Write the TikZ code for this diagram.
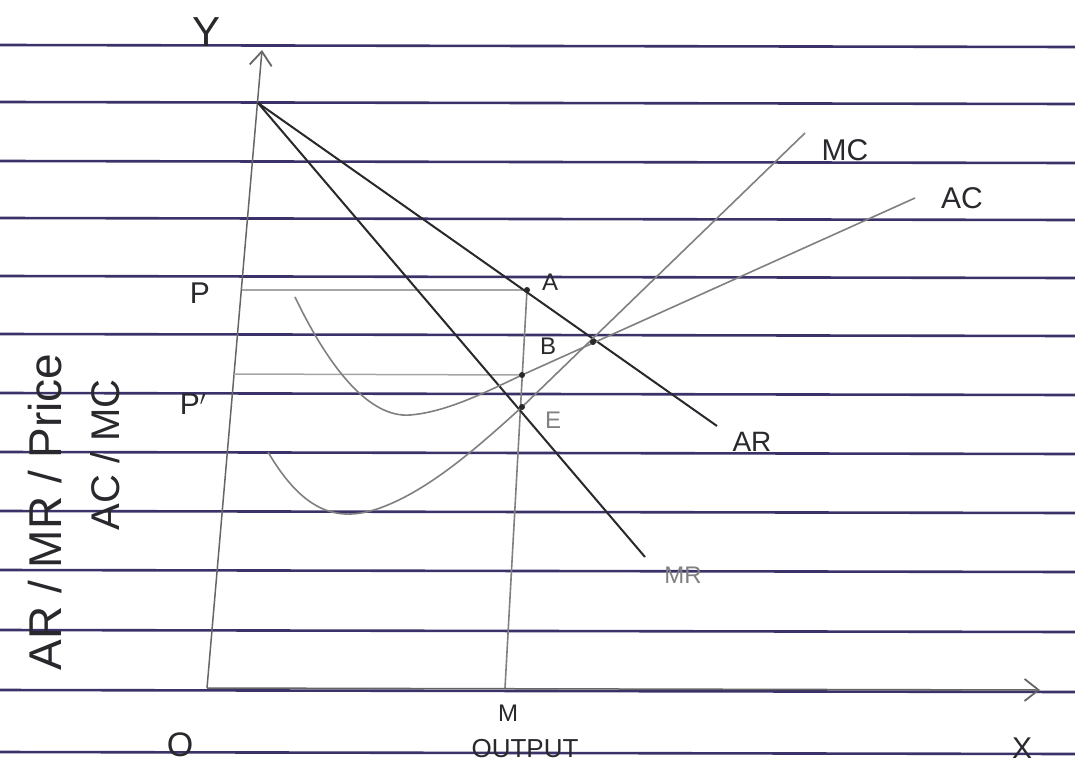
\documentclass[tikz,border=0pt]{standalone}
\usepackage{fontspec}
\setmainfont{Liberation Sans}
\usetikzlibrary{arrows.meta}
\definecolor{rulecol}{RGB}{60,50,105}
\definecolor{ink}{RGB}{40,40,45}
\begin{document}
\begin{tikzpicture}[x=1pt,y=-1pt,
  rule/.style={draw=rulecol, line width=2.6pt},
  inkline/.style={draw=ink, line width=2pt},
  lightline/.style={draw=black!50, line width=1.6pt},
  guide/.style={draw=black!35, line width=1.5pt},
  axisline/.style={draw=black!60, line width=1.5pt},
  tip/.style={-{Straight Barb[length=14pt,width=22pt,line width=1.8pt]}},
  lbl/.style={inner sep=0pt, text=ink, font=\fontsize{30}{32}\selectfont},
  smalllbl/.style={inner sep=0pt, text=ink, font=\fontsize{24}{26}\selectfont},
  faintlbl/.style={inner sep=0pt, text=black!50, font=\fontsize{24}{26}\selectfont},
  dot/.style={circle, fill=ink, inner sep=0pt, minimum size=6pt}
]
\fill[white] (0,0) rectangle (1075,771);
\useasboundingbox (0,0) rectangle (1075,771);

% ruled notebook lines
\foreach \yy in {45,102,161,218,276,334,393,452,511,570,630,690,752}
  \draw[rule] (0,\yy) -- (1075,\yy+2);

% key points
\coordinate (O) at (207,688);
\coordinate (Ytip) at (262,50);
\coordinate (Xtip) at (1040,690);
\coordinate (top) at (258,103);
\coordinate (A) at (527,290);
\coordinate (B) at (593,342);
\coordinate (E) at (522,407);
\coordinate (C) at (522,375);
\coordinate (M) at (505,688);
\coordinate (Pax) at (242,290);
\coordinate (P2ax) at (234,374);
\coordinate (ARend) at (717,426);
\coordinate (MRend) at (645,557);
\coordinate (MCend) at (805,133);
\coordinate (ACend) at (915,198);

% axes
\draw[axisline, tip] (O) -- (Ytip);
\draw[axisline, tip] (O) -- (Xtip);

% guides
\draw[guide] (Pax) -- (A);
\draw[guide] (P2ax) -- (C);
\draw[lightline] (A) -- (M);

% AR and MR
\draw[inkline] (top) -- (ARend);
\draw[inkline] (top) -- (MRend);

% MC curve
\draw[lightline] (268,452) .. controls (305,515) and (340,522) .. (380,508)
  .. controls (430,490) and (480,445) .. (E) -- (MCend);
% AC curve
\draw[lightline] (295,297) .. controls (330,370) and (370,418) .. (410,415)
  .. controls (445,412) and (480,395) .. (C) -- (ACend);

% dots
\node[dot] at (A) {};
\node[dot] at (B) {};
\node[dot] at (C) {};
\node[dot] at (E) {};

% labels
\node[lbl, font=\fontsize{42}{44}\selectfont] (ylab) at (207,32) {Y};
\node[lbl] (xlab) at (1022,748) {X};
\node[lbl, font=\fontsize{34}{36}\selectfont] (olab) at (180,745) {O};
\node[smalllbl] (mlab) at (508,713) {M};
\node[lbl, font=\fontsize{26}{28}\selectfont] (outlab) at (525,749) {OUTPUT};
\node[lbl] (plab) at (200,293) {P};
\node[lbl] (p2lab) at (193,404) {P$'$};
\node[smalllbl] (alab) at (550,282) {A};
\node[smalllbl] (blab) at (548,346) {B};
\node[faintlbl] (elab) at (553,420) {E};
\node[lbl, font=\fontsize{28}{30}\selectfont] (arlab) at (752,442) {AR};
\node[faintlbl] (mrlab) at (683,575) {MR};
\node[lbl] (mclab) at (845,150) {MC};
\node[lbl] (aclab) at (962,198) {AC};
\node[lbl, rotate=90, font=\fontsize{46}{48}\selectfont] (ylab1) at (45,512) {AR / MR / Price};
\node[lbl, rotate=90, font=\fontsize{40}{42}\selectfont] (ylab2) at (105,455) {AC / MC};
\end{tikzpicture}
\end{document}
